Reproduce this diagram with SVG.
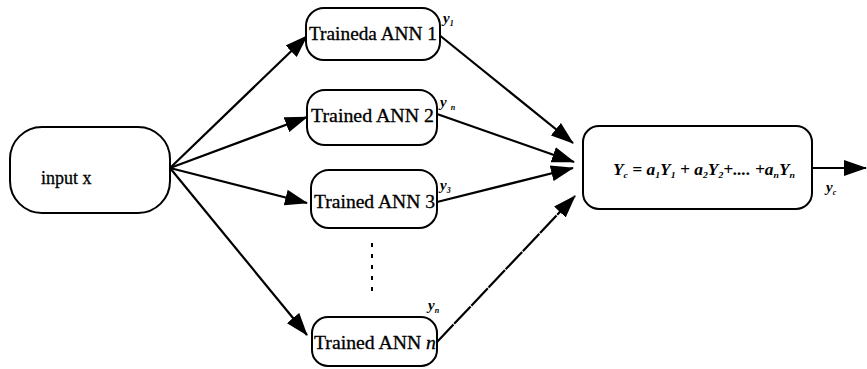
<svg xmlns="http://www.w3.org/2000/svg" width="867" height="369" viewBox="0 0 867 369">
<style>
.box{fill:#fff;stroke:#000;stroke-width:2}
.t{font-family:"Liberation Serif","Times New Roman",serif;font-size:18px;fill:#000;stroke:#000;stroke-width:0.3}
.lab{font-family:"Liberation Serif","Times New Roman",serif;font-style:italic;font-weight:bold;fill:#000}
.c{stroke:#000;stroke-width:2.2;fill:none;marker-end:url(#ah)}
</style>
<defs>
<marker id="ah" markerWidth="23" markerHeight="16" refX="22" refY="8" orient="auto" markerUnits="userSpaceOnUse">
<path d="M0,0 L23,8 L0,16 Z" fill="#000"/>
</marker>
</defs>
<rect width="867" height="369" fill="#fff"/>
<g id="connectors">
<line class="c" x1="170" y1="168" x2="307" y2="36"/>
<line class="c" x1="170" y1="168" x2="307" y2="117"/>
<line class="c" x1="170" y1="168" x2="307" y2="203"/>
<line class="c" x1="170" y1="168" x2="307" y2="335"/>
<line class="c" x1="438" y1="34" x2="573" y2="143"/>
<line class="c" x1="437" y1="114" x2="574" y2="162"/>
<line class="c" x1="437" y1="202" x2="573" y2="168"/>
<line class="c" x1="437" y1="342" x2="575" y2="196" stroke-dasharray="24 1"/>
<line class="c" x1="812" y1="168" x2="866" y2="168"/>
<line x1="372" y1="243" x2="372" y2="298" stroke="#000" stroke-width="2" stroke-dasharray="4 7"/>
</g>
<g id="input">
<rect class="box" x="10" y="127" width="160" height="86" rx="32" ry="32"/>
<text class="t" x="41" y="184" font-size="17">input x</text>
</g>
<g id="ann1">
<rect class="box" x="306" y="8" width="134" height="52" rx="18" ry="18"/>
<text class="t" x="309" y="40" textLength="128" lengthAdjust="spacingAndGlyphs">Traineda ANN 1</text>
<text class="lab" x="443" y="23" font-size="15">y<tspan font-size="8" dy="3">1</tspan></text>
</g>
<g id="ann2">
<rect class="box" x="307" y="90" width="130" height="55" rx="18" ry="18"/>
<text class="t" x="311" y="122" textLength="123" lengthAdjust="spacingAndGlyphs">Trained ANN 2</text>
<text class="lab" x="440" y="107" font-size="15">y<tspan font-size="8" dx="4" dy="3">n</tspan></text>
</g>
<g id="ann3">
<rect class="box" x="311" y="170" width="126" height="58" rx="18" ry="18"/>
<text class="t" x="314" y="208" textLength="121" lengthAdjust="spacingAndGlyphs">Trained ANN 3</text>
<text class="lab" x="440" y="190" font-size="15">y<tspan font-size="8" dy="3">3</tspan></text>
</g>
<g id="annn">
<rect class="box" x="312" y="317" width="125" height="49" rx="16" ry="16"/>
<text class="t" x="314" y="349" textLength="122" lengthAdjust="spacingAndGlyphs">Trained ANN <tspan font-style="italic">n</tspan></text>
<text class="lab" x="428" y="310" font-size="15">y<tspan font-size="8" dy="3">n</tspan></text>
</g>
<g id="result">
<rect class="box" x="583" y="126" width="229" height="83" rx="16" ry="16"/>
<text class="lab" x="613" y="175" font-size="16" textLength="182" lengthAdjust="spacingAndGlyphs">Y<tspan font-size="9" dy="3">c</tspan><tspan dy="-3"> = a</tspan><tspan font-size="9" dy="3">1</tspan><tspan dy="-3">Y</tspan><tspan font-size="9" dy="3">1</tspan><tspan dy="-3"> + a</tspan><tspan font-size="9" dy="3">2</tspan><tspan dy="-3">Y</tspan><tspan font-size="9" dy="3">2</tspan><tspan dy="-3">+.... +a</tspan><tspan font-size="9" dy="3">n</tspan><tspan dy="-3">Y</tspan><tspan font-size="9" dy="3">n</tspan></text>
<text class="lab" x="826" y="192" font-size="15">y<tspan font-size="8" dy="3">c</tspan></text>
</g>
</svg>
